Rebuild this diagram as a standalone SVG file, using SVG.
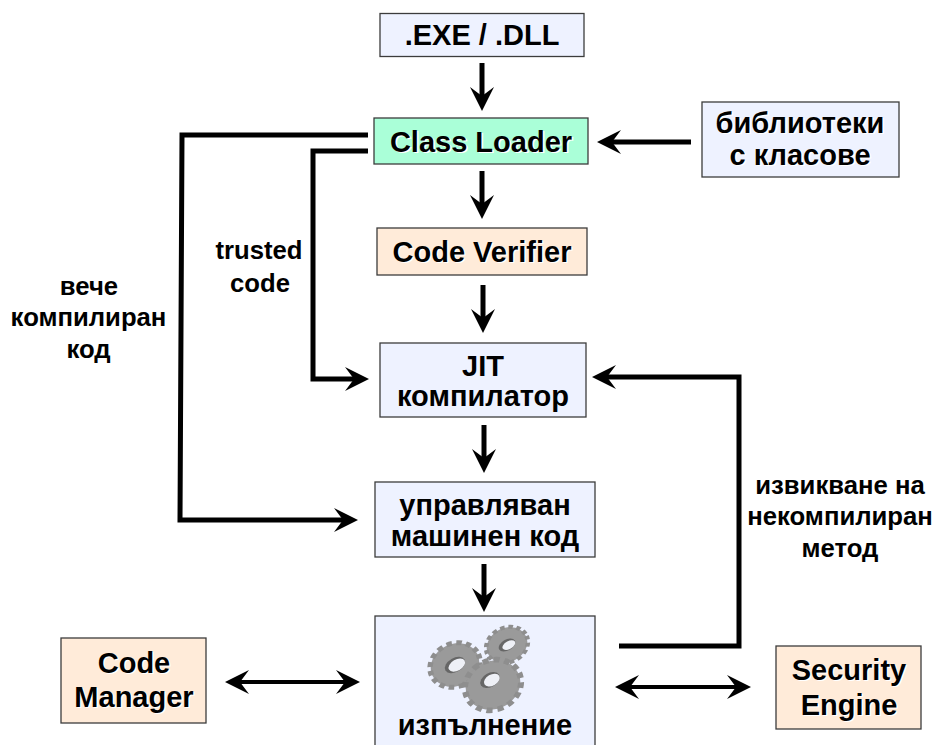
<svg xmlns="http://www.w3.org/2000/svg" xmlns:xlink="http://www.w3.org/1999/xlink" width="935" height="745" viewBox="0 0 935 745">
<style>
.box{stroke:#3c3c3c;stroke-width:1.3}
.blue{fill:#eef2ff}.green{fill:#aaffd8}.tan{fill:#ffebd9}
text{font-family:"Liberation Sans",Arial,sans-serif;font-weight:700;fill:#000;text-anchor:middle}
.n{font-size:29px}
.s{fill:#fff}
.l{font-size:25.700px}
.c{fill:none;stroke:#000;stroke-width:5;stroke-linejoin:miter}
.d{stroke-width:4}
.hole{fill:#eef0f6}
.shade{fill:#666}
</style>
<defs>
<marker id="a" markerUnits="userSpaceOnUse" markerWidth="26" markerHeight="26" refX="12" refY="13" orient="auto-start-reverse" viewBox="0 0 26 26"><path d="M0 1L24 13L0 25L9 13Z" fill="#000"/></marker>
<g id="gear"><circle r="20" fill="#9a9a9a"/><circle r="20.500" fill="none" stroke="#8e8e8e" stroke-width="4.500" stroke-dasharray="4.500 3.550"/></g>
</defs>
<g id="connectors">
<path class="c" d="M482 63V99" marker-end="url(#a)"/>
<path class="c" d="M482 171V207" marker-end="url(#a)"/>
<path class="c" d="M483 285V321" marker-end="url(#a)"/>
<path class="c" d="M484 425V461" marker-end="url(#a)"/>
<path class="c" d="M484 564V600" marker-end="url(#a)"/>
<path class="c" d="M691 142H609" marker-end="url(#a)"/>
<path class="c" d="M368 135H182L180 520H346" marker-end="url(#a)"/>
<path class="c" d="M368 151H313V379H357" marker-end="url(#a)"/>
<path class="c" d="M619 646H739V377H604" marker-end="url(#a)"/>
<path class="c d" d="M237 682H348" marker-start="url(#a)" marker-end="url(#a)"/>
<path class="c d" d="M627 687H739" marker-start="url(#a)" marker-end="url(#a)"/>
</g>
<g id="exe"><rect class="box blue" x="380" y="13.500" width="204" height="43"/><text class="n" x="482" y="45">.EXE / .DLL</text></g>
<g id="class-loader"><rect class="box green" x="374" y="118" width="214" height="46"/><text class="n s" x="482.500" y="153">Class Loader</text><text class="n" x="481" y="152">Class Loader</text></g>
<g id="libraries"><rect class="box blue" x="702" y="102" width="197" height="75"/><text class="n s" x="801.500" y="134">библиотеки</text><text class="n" x="800" y="133">библиотеки</text><text class="n s" x="801.500" y="166">с класове</text><text class="n" x="800" y="165">с класове</text></g>
<g id="code-verifier"><rect class="box tan" x="377" y="228" width="210" height="47"/><text class="n s" x="483.500" y="263">Code Verifier</text><text class="n" x="482" y="262">Code Verifier</text></g>
<g id="jit"><rect class="box blue" x="380" y="343" width="206" height="74"/><text class="n" x="483" y="376">JIT</text><text class="n" x="483" y="406">компилатор</text></g>
<g id="managed"><rect class="box blue" x="375" y="482" width="220" height="75"/><text class="n" x="485" y="515">управляван</text><text class="n" x="485" y="546">машинен код</text></g>
<g id="execution"><rect class="box blue" x="375" y="616" width="220" height="140"/>
<g transform="translate(455 665) rotate(-25) scale(1.250 1.050)"><use xlink:href="#gear"/></g>
<g transform="translate(455 665) rotate(-30)"><ellipse class="shade" rx="11" ry="7"/><ellipse class="hole" cx="1.500" cy="1" rx="9" ry="5.500"/></g>
<g transform="translate(507 645) rotate(-25) scale(1.050 .85)"><use xlink:href="#gear"/></g>
<g transform="translate(507 645) rotate(-30)"><ellipse class="shade" rx="9" ry="5.500"/><ellipse class="hole" cx="1.500" cy="1" rx="7" ry="4"/></g>
<g transform="translate(493 685) rotate(-25) scale(1.400 1.200)"><use xlink:href="#gear"/></g>
<g transform="translate(490 680) rotate(-30)"><ellipse class="shade" rx="10.500" ry="7"/><ellipse class="hole" cx="1.500" cy="1" rx="8.500" ry="5.500"/></g>
<text class="n" x="485" y="735">изпълнение</text></g>
<g id="code-manager"><rect class="box tan" x="61" y="638" width="145" height="85"/><text class="n s" x="135.500" y="674">Code</text><text class="n" x="134" y="673">Code</text><text class="n s" x="135.500" y="708">Manager</text><text class="n" x="134" y="707">Manager</text></g>
<g id="security-engine"><rect class="box tan" x="776" y="646" width="145" height="83"/><text class="n s" x="850.500" y="681">Security</text><text class="n" x="849" y="680">Security</text><text class="n s" x="850.500" y="716">Engine</text><text class="n" x="849" y="715">Engine</text></g>
<g id="labels">
<text class="l" x="259" y="259">trusted</text><text class="l" x="260" y="292">code</text>
<text class="l" x="89" y="295">вече</text><text class="l" x="88.500" y="326">компилиран</text><text class="l" x="88.500" y="358">код</text>
<text class="l" x="840" y="494">извикване на</text><text class="l" x="840" y="525">некомпилиран</text><text class="l" x="840" y="557">метод</text>
</g>
</svg>
